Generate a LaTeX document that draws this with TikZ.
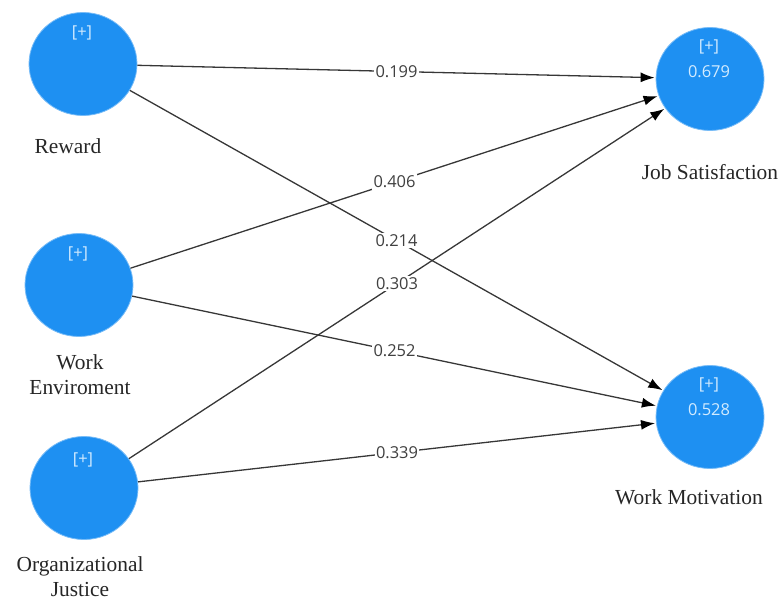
\documentclass[tikz,border=0pt]{standalone}
\usepackage{fontspec}
\setmainfont{Liberation Serif}
\newfontfamily\lblfont{Open Sans}
\usetikzlibrary{shapes.geometric,arrows.meta}
\definecolor{lvblue}{RGB}{30,144,242}
\definecolor{lvtext}{RGB}{210,235,255}
\definecolor{edgegray}{RGB}{55,55,55}
\tikzset{
  lv/.style={ellipse, fill=lvblue, draw=lvblue!60!white, line width=0.8bp, minimum width=108bp, minimum height=103bp, inner sep=0pt},
  intext/.style={text=lvtext, font=\lblfont\fontsize{16.5}{18}\selectfont},
  lvname/.style={font=\fontsize{21.5}{25}\selectfont, align=center, text=black!85},
  pathedge/.style={draw=edgegray, line width=1.3bp, -{Latex[length=14bp,width=10bp,black]}, shorten >=1bp},
  coef/.style={midway, fill=white, inner sep=1.5bp, text=black!75, font=\lblfont\fontsize{16.5}{18}\selectfont},
}
\begin{document}
\begin{tikzpicture}[x=1bp,y=-1bp]
\useasboundingbox (0,0) rectangle (784,601);
\node[lv] (rw) at (83,64) {};
\node[lv] (we) at (79,285) {};
\node[lv] (oj) at (84,488) {};
\node[lv] (js) at (710,79) {};
\node[lv] (wm) at (710,417) {};
\node[intext] (rwp) at (82,33) {[+]};
\node[intext] (wep) at (78,254) {[+]};
\node[intext] (ojp) at (83,460) {[+]};
\node[intext] (jsp) at (709,47) {[+]};
\node[intext] (jsv) at (709,72) {0.679};
\node[intext] (wmp) at (709,385) {[+]};
\node[intext] (wmv) at (709,410) {0.528};
\node[lvname] (rwl) at (68,146) {Reward};
\node[lvname] (wel) at (80,375) {Work\\Enviroment};
\node[lvname] (ojl) at (80,577) {Organizational\\Justice};
\node[lvname] (jsl) at (710,172) {Job Satisfaction};
\node[lvname] (wml) at (689,497) {Work Motivation};
\draw[pathedge] (rw) -- node[coef] {0.199} (js);
\draw[pathedge] (rw) -- node[coef] {0.214} (wm);
\draw[pathedge] (we) -- node[coef] {0.406} (js);
\draw[pathedge] (we) -- node[coef] {0.252} (wm);
\draw[pathedge] (oj) -- node[coef] {0.303} (js);
\draw[pathedge] (oj) -- node[coef] {0.339} (wm);
\end{tikzpicture}
\end{document}
